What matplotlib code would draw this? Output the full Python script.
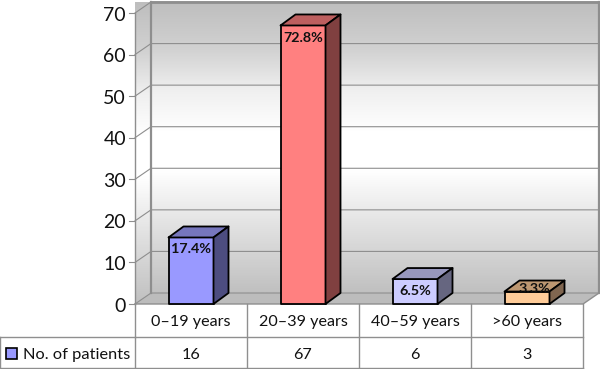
import numpy as np
import matplotlib
matplotlib.use("Agg")
from matplotlib import pyplot as plt
from matplotlib.patches import Polygon, Rectangle
from matplotlib.colors import LinearSegmentedColormap

categories = ["0–19 years", "20–39 years", "40–59 years", ">60 years"]
patients = [16, 67, 6, 3]
percent_labels = ["17.4%", "72.8%", "6.5%", "3.3%"]
yticks = [0, 10, 20, 30, 40, 50, 60, 70]
series_name = "No. of patients"

front_colors = ["#9999ff", "#ff8080", "#ccccff", "#ffcc99"]
top_colors = ["#7676bd", "#bd5f5f", "#9797bd", "#bd9771"]
side_colors = ["#4d4d80", "#804040", "#666680", "#806650"]

plt.rcParams['font.family'] = ['Lato', 'DejaVu Sans']

W, H = 600, 369
fig = plt.figure(figsize=(W/100, H/100), dpi=100)
# front plane of the 3d box: x 135..583, y 13..304 (pixels)
ax = fig.add_axes([135/W, 1-304/H, 448/W, 291/H])
ax.set_xlim(-0.5, 3.5)
ax.set_ylim(0, 70)
ax.axis("off")

# depth of box and bars, pixels -> data
px = 4/448
py = 70/291
dx, dy = 16*px, 11*py
bar_w = 45*px
bar_dx, bar_dy = 15*px, 11*py
x0, x1, top = -0.5, 3.5, 70

grad = LinearSegmentedColormap.from_list("wall", [(0, "#bebebe"), (0.165, "#d2d2d2"), (0.3, "#efefef"),
                                                  (0.44, "#ffffff"), (0.58, "#ffffff"), (0.78, "#e0e0e0"), (1, "#c0c0c0")])
g = np.linspace(0, 1, 256).reshape(-1, 1)

back = Rectangle((x0+dx, dy), x1-x0, top, transform=ax.transData)
im = ax.imshow(g, cmap=grad, extent=(x0+dx, x1+dx, dy, top+dy), aspect="auto", zorder=1, clip_on=False)
im.set_clip_path(back)

left = Polygon([(x0, 0), (x0+dx, dy), (x0+dx, top+dy), (x0, top)], transform=ax.transData)
im2 = ax.imshow(g, cmap=grad, vmin=0, vmax=1, extent=(x0, x0+dx, 0, top+dy), aspect="auto", zorder=1, clip_on=False)
im2.set_clip_path(left)
ax.set_xlim(-0.5, 3.5)
ax.set_ylim(0, 70)

ax.add_patch(Polygon([(x0, 0), (x1, 0), (x1+dx, dy), (x0+dx, dy)], fc="#bcbcbc", ec="none", zorder=1, clip_on=False))

grid_c = "#8e8e8e"
for t in yticks:
    ax.plot([x0, x0+dx, x1+dx], [t, t+dy, t+dy], color=grid_c, lw=0.8, zorder=2, clip_on=False)
    ax.plot([x0-6*px, x0], [t, t], color=grid_c, lw=0.8, zorder=2, clip_on=False)
    ax.annotate(str(t), (x0, t), xytext=(-9, -2), textcoords="offset pixels", ha="right", va="center",
                fontsize=14, color="#111111", annotation_clip=False)
ax.plot([x0, x0], [0, top], color=grid_c, lw=1, zorder=2, clip_on=False)
ax.plot([x0+dx, x0+dx], [dy, top+dy], color=grid_c, lw=1.6, zorder=2, clip_on=False)
ax.plot([x0+dx, x1+dx], [top+dy, top+dy], color=grid_c, lw=2, zorder=2, clip_on=False)
ax.plot([x1+dx, x1+dx], [dy, top+dy], color=grid_c, lw=1.6, zorder=2, clip_on=False)
ax.plot([x0, x1, x1+dx], [0, 0, dy], color=grid_c, lw=1, zorder=2, clip_on=False)

# bars
label_off = [(0, -12), (0, -13), (0, -12), (7, 3)]
for i, v in enumerate(patients):
    l, r = i-bar_w/2, i+bar_w/2
    kw = dict(ec="black", lw=1.3, joinstyle="round", zorder=3, clip_on=False)
    ax.add_patch(Rectangle((l, 0), bar_w, v, fc=front_colors[i], **kw))
    ax.add_patch(Polygon([(l, v), (r, v), (r+bar_dx, v+bar_dy), (l+bar_dx, v+bar_dy)], fc=top_colors[i], **kw))
    ax.add_patch(Polygon([(r, 0), (r+bar_dx, bar_dy), (r+bar_dx, v+bar_dy), (r, v)], fc=side_colors[i], **kw))
    ax.annotate(percent_labels[i], (i, v), xytext=label_off[i], textcoords="offset pixels", ha="center", va="center",
                fontsize=10.4, fontweight="bold", color="#111111", zorder=4, annotation_clip=False)

# data table under the chart, row heights in data units
row1, row2 = 33*py, 64*py
left_col = x0-135*px
tc = "#8f8f8f"
for i in range(5):
    ax.plot([x0+i, x0+i], [0, -row2], color=tc, lw=1, clip_on=False, zorder=2)
ax.plot([x0, x1], [-row1, -row1], color=tc, lw=1, clip_on=False)
ax.plot([left_col, x0], [-row1, -row1], color=tc, lw=1, clip_on=False)
ax.plot([left_col, x1], [-row2, -row2], color=tc, lw=1, clip_on=False)
ax.plot([left_col, left_col], [-row1, -row2], color=tc, lw=1, clip_on=False)
y1 = -row1/2 - 1.5*py
y2 = -(row1+row2)/2 - 2.5*py
for i, c in enumerate(categories):
    ax.text(i, y1, c, ha="center", va="center", fontsize=11.6, color="#111111", clip_on=False)
    ax.text(i, y2, str(patients[i]), ha="center", va="center", fontsize=11.6, color="#111111", clip_on=False)
ax.add_patch(Rectangle((left_col+6*px, -(row1+row2)/2-6.5*py), 11*px, 11*py, fc=front_colors[0], ec="black", lw=1.2, clip_on=False))
ax.text(left_col+23*px, y2, series_name, ha="left", va="center", fontsize=11.8, color="#111111", clip_on=False)

fig.savefig("out.png", dpi=100)
